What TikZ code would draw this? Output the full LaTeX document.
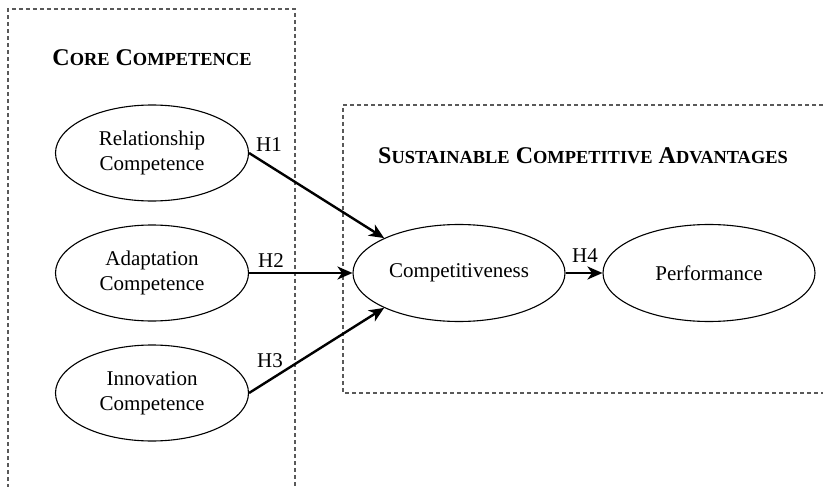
\documentclass[tikz,border=0pt]{standalone}
\usepackage{fontspec}
\setmainfont{Liberation Serif}
\usetikzlibrary{shapes.geometric,arrows.meta}
\newcommand{\smsc}[1]{{\fontsize{18.4}{22}\selectfont #1}}
\begin{document}
\begin{tikzpicture}[x=1pt,y=-1pt,
  construct/.style={draw=black,line width=1.1pt,ellipse,inner sep=0pt,align=center,
     font=\fontsize{21}{25}\selectfont},
  leftc/.style={construct,minimum width=193pt,minimum height=96pt},
  rightc/.style={construct,minimum width=212pt,minimum height=97pt},
  frame/.style={draw=black!65,line width=1.1pt,dash pattern=on 4pt off 3pt},
  link/.style={line width=2.4pt,-{Stealth[length=15pt,width=13pt,inset=4.5pt]}},
  hlabel/.style={font=\fontsize{21}{25}\selectfont,inner sep=0pt},
  title/.style={font=\fontsize{24}{28}\bfseries\selectfont,inner sep=0pt,anchor=base}]
\useasboundingbox (0,0) rectangle (823,487);
% frames
\draw[frame] (8,495) -- (8,9) -- (295,9) -- (295,495);
\draw[frame] (830,105) -- (343,105) -- (343,393) -- (830,393);
% titles
\node[title] (t1) at (152,66) {C\smsc{ORE} C\smsc{OMPETENCE}};
\node[title] (t2) at (583,163) {S\smsc{USTAINABLE} C\smsc{OMPETITIVE} A\smsc{DVANTAGES}};
% constructs
\node[leftc] (rel) at (152,153) {Relationship\\Competence};
\node[leftc] (ada) at (152,273) {Adaptation\\Competence};
\node[leftc] (inn) at (152,393) {Innovation\\Competence};
\node[rightc] (comp) at (459,273) {Competitiveness};
\node[rightc] (perf) at (709,273) {Performance};
% links
\draw[link] (rel.east) -- (comp.155);
\draw[link] (ada.east) -- (comp.west);
\draw[link] (inn.east) -- (comp.205);
\draw[link] (comp.east) -- (perf.west);
% labels
\node[hlabel] (h1) at (269,145) {H1};
\node[hlabel] (h2) at (271,261) {H2};
\node[hlabel] (h3) at (270,361) {H3};
\node[hlabel] (h4) at (585,256) {H4};
\end{tikzpicture}
\end{document}
